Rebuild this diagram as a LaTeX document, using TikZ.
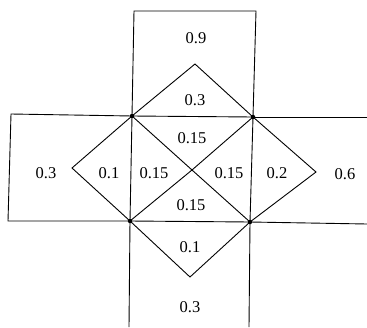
\documentclass[tikz,border=0pt]{standalone}
\usepackage{fontspec}
\setmainfont{Liberation Serif}
\tikzset{
  edge/.style={line width=0.9pt},
  val/.style={font=\fontsize{16.5}{18}\selectfont, inner sep=1pt},
  dot/.style={circle, fill, inner sep=0pt, minimum size=4.5pt},
}
\begin{document}
\begin{tikzpicture}[x=1pt, y=-1pt]
\useasboundingbox (0,0) rectangle (367,327);
% middle square and its centre
\coordinate (tl) at (132,116);
\coordinate (tr) at (253,117);
\coordinate (bl) at (130,221);
\coordinate (br) at (250,222);
\coordinate (c) at (192,170);
% tips of the four diamonds
\coordinate (up) at (195,64);
\coordinate (left) at (72,168);
\coordinate (right) at (316,172);
\coordinate (down) at (190,277);
% ends of the outer boxes
\coordinate (topL) at (134,11);
\coordinate (topR) at (256,11);
\coordinate (lefT) at (11,114);
\coordinate (lefB) at (8,221);
\coordinate (rigT) at (367,117);
\coordinate (rigB) at (367,224);
\coordinate (botL) at (129,327);
\coordinate (botR) at (249,327);

\draw[edge] (tl) -- (topL) -- (topR) -- (tr);
\draw[edge] (tl) -- (lefT) -- (lefB) -- (bl);
\draw[edge] (tr) -- (rigT);
\draw[edge] (br) -- (rigB);
\draw[edge] (bl) -- (botL);
\draw[edge] (br) -- (botR);
\draw[edge] (tl) -- (tr) -- (br) -- (bl) -- cycle;
\draw[edge] (tl) -- (c) -- (br);
\draw[edge] (tr) -- (c) -- (bl);
\draw[edge] (tl) -- (up) -- (tr);
\draw[edge] (tl) -- (left) -- (bl);
\draw[edge] (tr) -- (right) -- (br);
\draw[edge] (bl) -- (down) -- (br);
\foreach \p in {tl,tr,bl,br}
  \node[dot] at (\p) {};

\node[val] (vTop) at (196,38) {0.9};
\node[val] (vUp) at (195,100) {0.3};
\node[val] (vCT) at (192,138) {0.15};
\node[val] (vLeft) at (46,173) {0.3};
\node[val] (vLD) at (109,173) {0.1};
\node[val] (vCL) at (154,173) {0.15};
\node[val] (vCR) at (229,173) {0.15};
\node[val] (vRD) at (277,173) {0.2};
\node[val] (vRight) at (345,174) {0.6};
\node[val] (vCB) at (191,205) {0.15};
\node[val] (vDD) at (190,247) {0.1};
\node[val] (vBot) at (190,307) {0.3};
\end{tikzpicture}
\end{document}
